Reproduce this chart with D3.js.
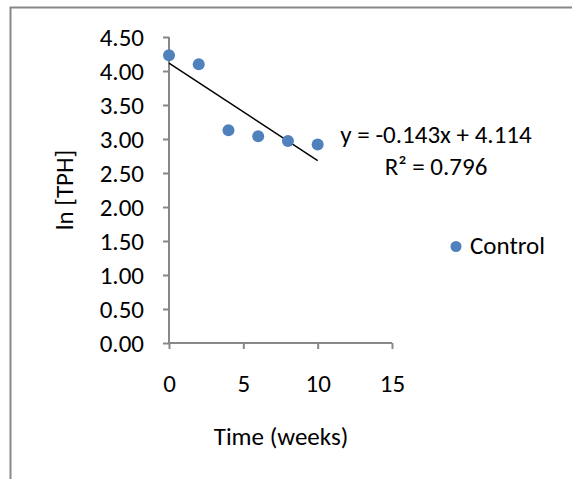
<!DOCTYPE html>
<html>
<head>
<meta charset="utf-8">
<script src="https://cdn.jsdelivr.net/npm/d3@7"></script>
<style>
  body { margin: 0; background: #fff; }
  text { font-family: Carlito, Calibri, Lato, sans-serif; fill: #000; }
</style>
</head>
<body>
<div id="chart"></div>
<script>
// the chart values
var weeks = [0, 2, 4, 6, 8, 10];
var lnTPH = [4.23, 4.10, 3.13, 3.04, 2.97, 2.92];
var xTicks = [0, 5, 10, 15];
var yTicks = [0, 0.5, 1, 1.5, 2, 2.5, 3, 3.5, 4, 4.5];
var seriesName = "Control";
var trendLabel = ["y = -0.143x + 4.114", "R\u00b2 = 0.796"];

var w = 572, h = 479;
var fontSize = "25px";
var svg = d3.select("#chart").append("svg")
  .attr("width", w)
  .attr("height", h);

// outer chart border (only top and left show in the picture)
svg.append("path")
  .attr("d", "M10.5," + h + "V7.5H" + w)
  .attr("fill", "none")
  .attr("stroke", "#888")
  .attr("stroke-width", 2);

var x = d3.scaleLinear().domain([0, 15]).range([169, 392]);
var y = d3.scaleLinear().domain([0, 4.5]).range([343, 37]);

// y axis
var yAxis = svg.append("g")
  .attr("transform", "translate(169,0)")
  .call(d3.axisLeft(y).tickValues(yTicks).tickFormat(d3.format(".2f")).tickSize(6).tickPadding(19));
// x axis
var xAxis = svg.append("g")
  .attr("transform", "translate(0,343)")
  .call(d3.axisBottom(x).tickValues(xTicks).tickSize(6).tickPadding(25));

[yAxis, xAxis].forEach(function(a) {
  a.select(".domain").attr("stroke", "#888").attr("stroke-width", 2);
  a.selectAll(".tick line").attr("stroke", "#888").attr("stroke-width", 2);
  a.selectAll(".tick text").style("font-size", fontSize).attr("fill", "#000");
});
yAxis.select(".domain").attr("d", "M0,343V37");
xAxis.select(".domain").attr("d", "M169,0H392");

// linear trendline fitted to the points
var reg = (function() {
  var mx = d3.mean(weeks), my = d3.mean(lnTPH);
  var sxy = 0, sxx = 0;
  weeks.forEach(function(xv, i) {
    sxy += (xv - mx) * (lnTPH[i] - my);
    sxx += (xv - mx) * (xv - mx);
  });
  var m = sxy / sxx;
  return { m: m, b: my - m * mx };
})();
var xMin = d3.min(weeks), xMax = d3.max(weeks);
svg.append("line")
  .attr("x1", x(xMin)).attr("y1", y(reg.b + reg.m * xMin))
  .attr("x2", x(xMax)).attr("y2", y(reg.b + reg.m * xMax))
  .attr("stroke", "#000")
  .attr("stroke-width", 1.5);

// data points
svg.selectAll("circle.pt")
  .data(weeks)
  .enter().append("circle")
  .attr("class", "pt")
  .attr("cx", function(d) { return x(d); })
  .attr("cy", function(d, i) { return y(lnTPH[i]); })
  .attr("r", 6)
  .attr("fill", "#4f81bd");

// trendline equation
svg.selectAll("text.eq")
  .data(trendLabel)
  .enter().append("text")
  .attr("class", "eq")
  .attr("x", 436)
  .attr("y", function(d, i) { return 143 + i * 32; })
  .attr("text-anchor", "middle")
  .style("font-size", fontSize)
  .text(function(d) { return d; });

// legend
svg.append("circle")
  .attr("cx", 456).attr("cy", 246.5).attr("r", 5.5)
  .attr("fill", "#4f81bd");
svg.append("text")
  .attr("x", 470).attr("y", 254)
  .style("font-size", fontSize)
  .text(seriesName);

// axis titles
svg.append("text")
  .attr("x", 281).attr("y", 445)
  .attr("text-anchor", "middle")
  .style("font-size", fontSize)
  .text("Time (weeks)");
svg.append("text")
  .attr("transform", "translate(73,190) rotate(-90)")
  .attr("text-anchor", "middle")
  .style("font-size", fontSize)
  .text("ln [TPH]");
</script>
</body>
</html>
